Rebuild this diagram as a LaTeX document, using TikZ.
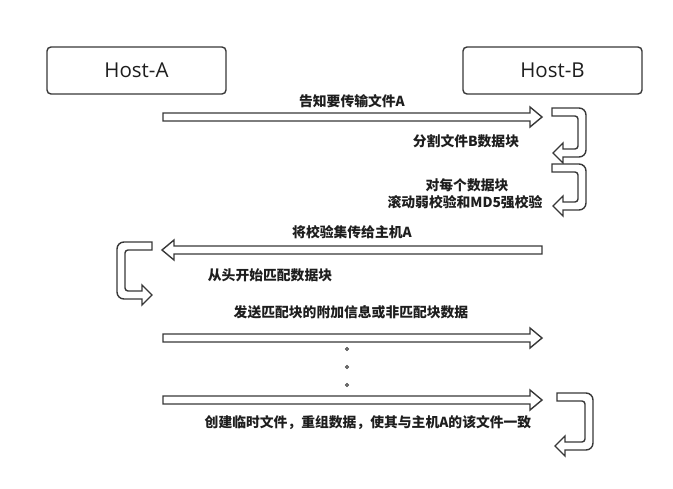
\documentclass[tikz,border=0pt]{standalone}
\usepackage{fontspec}
\setmainfont{Open Sans}
\newfontfamily\cjk{Noto Sans CJK SC}
\definecolor{ln}{HTML}{383838}
\definecolor{tx}{HTML}{1E1E1E}
\newcommand\rarrow[3]{\draw[arr] (#1,#3-4) -- (#2-12,#3-4) -- (#2-12,#3-10) -- (#2,#3) -- (#2-12,#3+10) -- (#2-12,#3+4) -- (#1,#3+4) -- cycle;}
\newcommand\larrow[3]{\draw[arr] (#1,#3-4) -- (#2+12,#3-4) -- (#2+12,#3-10) -- (#2,#3) -- (#2+12,#3+10) -- (#2+12,#3+4) -- (#1,#3+4) -- cycle;}
% right U-turn: xs, xt, yt, yb, xr
\newcommand\uturnR[5]{\draw[arr] (#1,#3) [rounded corners=7] -- (#5,#3) -- (#5,#4+4) [sharp corners] -- (#2+10,#4+4) -- (#2+10,#4+10) -- (#2,#4) -- (#2+10,#4-10) -- (#2+10,#4-4) [rounded corners=3] -- (#5-8,#4-4) -- (#5-8,#3+8) [sharp corners] -- (#1,#3+8) -- cycle;}
\newcommand\uturnL[5]{\draw[arr] (#1,#3) [rounded corners=7] -- (#5,#3) -- (#5,#4+4) [sharp corners] -- (#2-10,#4+4) -- (#2-10,#4+10) -- (#2,#4) -- (#2-10,#4-10) -- (#2-10,#4-4) [rounded corners=3] -- (#5+8,#4-4) -- (#5+8,#3+8) [sharp corners] -- (#1,#3+8) -- cycle;}
\begin{document}
\begin{tikzpicture}[x=1pt,y=-1pt,
  arr/.style={draw=ln,line width=1.4pt,fill=white},
  host/.style={draw=ln,line width=1.4pt,rounded corners=4pt,minimum width=179pt,minimum height=47pt,inner sep=0pt,font=\fontsize{20.5}{24}\selectfont,text=tx},
  lbl/.style={font=\cjk\bfseries\fontsize{13.8}{16}\selectfont,text=tx,inner sep=0pt},
  dotc/.style={draw=ln,line width=0.8pt}]
\useasboundingbox[fill=white] (0,0) rectangle (673,488);
\node[host] (A) at (136.5,70.5) {Host-A};
\node[host] (B) at (552.5,70.5) {Host-B};
\rarrow{163}{542}{117}
\node[lbl] (l1) at (352,101) {告知要传输文件A};
\uturnR{552}{553}{108}{153}{586}
\node[lbl] (l2) at (466,141) {分割文件B数据块};
\uturnR{552}{553}{164}{206}{586}
\node[lbl] (l3) at (467,185) {对每个数据块};
\node[lbl] (l4) at (465,202) {滚动弱校验和MD5强校验};
\larrow{542}{162}{250}
\node[lbl] (l5) at (352,232) {将校验集传给主机A};
\uturnL{152}{152}{242}{295}{117}
\node[lbl] (l6) at (270,275) {从头开始匹配数据块};
\rarrow{163}{542}{338}
\node[lbl] (l7) at (351,312) {发送匹配块的附加信息或非匹配块数据};
\draw[dotc] (347,349) circle (1.5);
\draw[dotc] (347,367) circle (1.5);
\draw[dotc] (347,385) circle (1.5);
\rarrow{163}{542}{400}
\uturnR{557}{555}{393}{446}{593}
\node[lbl] (l8) at (368,423) {创建临时文件，重组数据，使其与主机A的该文件一致};
\end{tikzpicture}
\end{document}
